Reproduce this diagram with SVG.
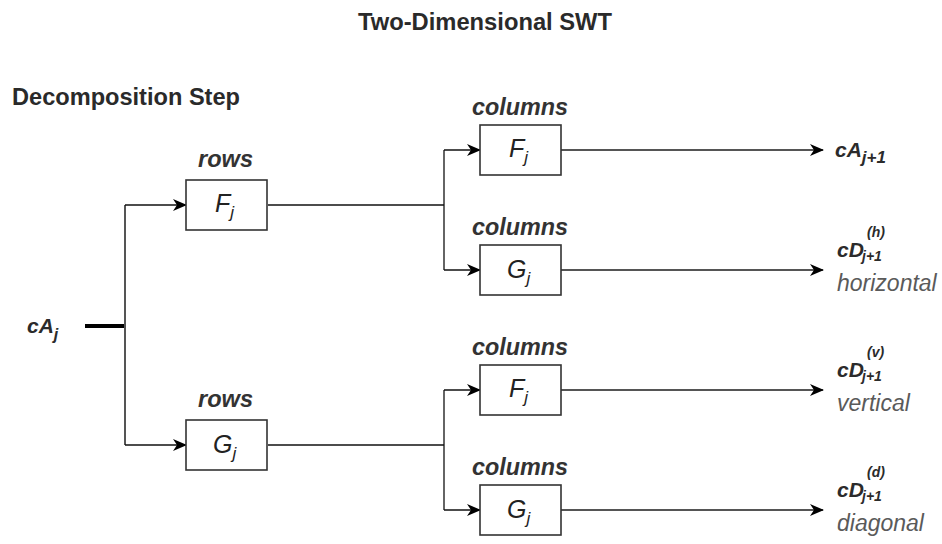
<svg xmlns="http://www.w3.org/2000/svg" width="942" height="544" viewBox="0 0 942 544">
<defs>
<marker id="arr" markerWidth="14" markerHeight="12" refX="13" refY="6" orient="auto" markerUnits="userSpaceOnUse">
<path d="M0,0 L14,6 L0,12 L4,6 Z" fill="#000"/>
</marker>
<style>
.box{fill:#fff;stroke:#333;stroke-width:1.6}
.t{font-family:"Liberation Sans",Arial,sans-serif;fill:#2b2b2b}
.hd{font-size:23px;font-weight:bold;fill:#2a2a2a}
.lbl{font-size:23px;font-style:italic;font-weight:bold;fill:#333}
.sym{font-size:21px;font-style:italic;font-weight:bold;fill:#2b2b2b}
.sub{font-size:14px;font-style:italic;font-weight:bold;fill:#2b2b2b}
.bx{font-size:25px;font-style:italic;fill:#222}
.bxs{font-size:17px;font-style:italic;fill:#222}
.desc{font-size:23px;font-style:italic;fill:#5a5a5a}
.c1{fill:none;stroke:#111;stroke-width:1.3}
.c2{fill:none;stroke:#555;stroke-width:2}
</style>
</defs>
<rect width="942" height="544" fill="#fff"/>
<text class="t hd" x="358" y="30" textLength="254" lengthAdjust="spacingAndGlyphs">Two-Dimensional SWT</text>
<text class="t hd" x="12" y="105" textLength="228" lengthAdjust="spacingAndGlyphs">Decomposition Step</text>

<g id="connectors">
<line x1="85" y1="326" x2="125" y2="326" stroke="#000" stroke-width="4"/>
<path class="c2" d="M125,445 V205"/>
<path class="c1" d="M125,205 H186" marker-end="url(#arr)"/>
<path class="c1" d="M125,445 H186" marker-end="url(#arr)"/>
<path class="c1" d="M268,205 H444"/>
<path class="c1" d="M444,150 V270"/>
<path class="c1" d="M444,150 H480" marker-end="url(#arr)"/>
<path class="c1" d="M444,270 H480" marker-end="url(#arr)"/>
<path class="c1" d="M268,445 H444"/>
<path class="c1" d="M444,390 V510"/>
<path class="c1" d="M444,390 H480" marker-end="url(#arr)"/>
<path class="c1" d="M444,510 H480" marker-end="url(#arr)"/>
<path class="c2" d="M561,150 H823" marker-end="url(#arr)"/>
<path class="c2" d="M561,270 H823" marker-end="url(#arr)"/>
<path class="c2" d="M561,390 H823" marker-end="url(#arr)"/>
<path class="c2" d="M561,510 H823" marker-end="url(#arr)"/>
</g>

<g id="input">
<text class="t sym" x="27" y="333">cA<tspan font-size="16" dy="7">j</tspan></text>
</g>

<g id="rowsF">
<text class="t lbl" x="198" y="167" textLength="55" lengthAdjust="spacingAndGlyphs">rows</text>
<rect class="box" x="186" y="180" width="81" height="50"/>
<text class="t bx" x="215" y="212">F<tspan class="bxs" dy="6">j</tspan></text>
</g>
<g id="rowsG">
<text class="t lbl" x="198" y="407" textLength="55" lengthAdjust="spacingAndGlyphs">rows</text>
<rect class="box" x="186" y="420" width="81" height="50"/>
<text class="t bx" x="213" y="453">G<tspan class="bxs" dy="6">j</tspan></text>
</g>

<g id="colF1">
<text class="t lbl" x="472" y="115" textLength="96" lengthAdjust="spacingAndGlyphs">columns</text>
<rect class="box" x="480" y="125" width="81" height="50"/>
<text class="t bx" x="509" y="157">F<tspan class="bxs" dy="6">j</tspan></text>
</g>
<g id="colG1">
<text class="t lbl" x="472" y="235" textLength="96" lengthAdjust="spacingAndGlyphs">columns</text>
<rect class="box" x="480" y="245" width="81" height="50"/>
<text class="t bx" x="507" y="278">G<tspan class="bxs" dy="6">j</tspan></text>
</g>
<g id="colF2">
<text class="t lbl" x="472" y="355" textLength="96" lengthAdjust="spacingAndGlyphs">columns</text>
<rect class="box" x="480" y="365" width="81" height="50"/>
<text class="t bx" x="509" y="397">F<tspan class="bxs" dy="6">j</tspan></text>
</g>
<g id="colG2">
<text class="t lbl" x="472" y="475" textLength="96" lengthAdjust="spacingAndGlyphs">columns</text>
<rect class="box" x="480" y="485" width="81" height="50"/>
<text class="t bx" x="507" y="518">G<tspan class="bxs" dy="6">j</tspan></text>
</g>

<g id="outA">
<text class="t sym" x="835" y="157">cA<tspan font-size="17" dy="6">j+1</tspan></text>
</g>
<g id="outH">
<text class="t sym" x="837" y="257">cD</text>
<text class="t sub" x="867" y="237">(h)</text>
<text class="t sub" x="862" y="261">j+1</text>
<text class="t desc" x="837" y="291">horizontal</text>
</g>
<g id="outV">
<text class="t sym" x="837" y="377">cD</text>
<text class="t sub" x="867" y="357">(v)</text>
<text class="t sub" x="862" y="381">j+1</text>
<text class="t desc" x="837" y="411">vertical</text>
</g>
<g id="outD">
<text class="t sym" x="837" y="497">cD</text>
<text class="t sub" x="867" y="477">(d)</text>
<text class="t sub" x="862" y="501">j+1</text>
<text class="t desc" x="837" y="531">diagonal</text>
</g>
</svg>
